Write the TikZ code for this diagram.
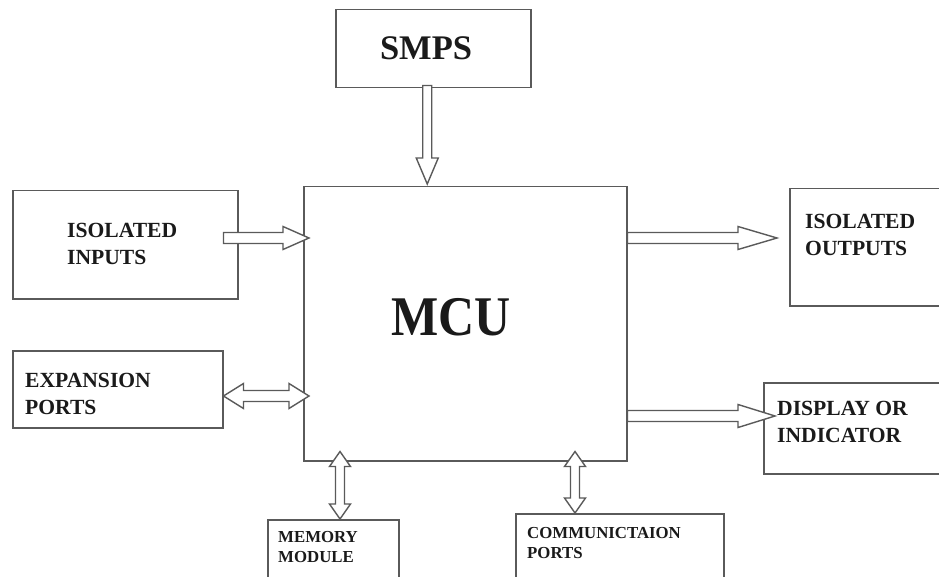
\documentclass[tikz,border=0pt]{standalone}
\usepackage{fontspec}
\usepackage{graphicx}
\setmainfont{Liberation Serif}
\usetikzlibrary{calc}
\definecolor{linecol}{HTML}{5A5A5A}
\definecolor{txtcol}{HTML}{1A1A1A}
\tikzset{
  box/.style={draw=linecol, line width=1.5pt, fill=white, anchor=north west, inner sep=0pt},
  lbl/.style={anchor=north west, inner sep=0pt, align=left, text=txtcol, font=\fontsize{21.6}{26.5}\selectfont\bfseries},
  smalllbl/.style={anchor=north west, inner sep=0pt, align=left, text=txtcol, font=\fontsize{16.8}{20.5}\selectfont\bfseries},
  blk/.style={draw=linecol, line width=1.4pt, fill=white, line join=miter}
}
% single arrow pointing right: #1 start, #2 tip, #3 shaft half, #4 head half, #5 head length
\newcommand{\arrR}[5]{%
  \draw[blk] ($(#1)+(0,-#3)$) -- ($(#2)+(-#5,-#3)$) -- ($(#2)+(-#5,-#4)$) -- (#2)
    -- ($(#2)+(-#5,#4)$) -- ($(#2)+(-#5,#3)$) -- ($(#1)+(0,#3)$) -- cycle;}
% single arrow pointing down (y axis points down)
\newcommand{\arrD}[5]{%
  \draw[blk] ($(#1)+(-#3,0)$) -- ($(#2)+(-#3,-#5)$) -- ($(#2)+(-#4,-#5)$) -- (#2)
    -- ($(#2)+(#4,-#5)$) -- ($(#2)+(#3,-#5)$) -- ($(#1)+(#3,0)$) -- cycle;}
% double horizontal arrow: #1 left tip, #2 right tip
\newcommand{\arrLR}[5]{%
  \draw[blk] (#1) -- ($(#1)+(#5,-#4)$) -- ($(#1)+(#5,-#3)$) -- ($(#2)+(-#5,-#3)$)
    -- ($(#2)+(-#5,-#4)$) -- (#2) -- ($(#2)+(-#5,#4)$) -- ($(#2)+(-#5,#3)$)
    -- ($(#1)+(#5,#3)$) -- ($(#1)+(#5,#4)$) -- cycle;}
% double vertical arrow: #1 top tip, #2 bottom tip
\newcommand{\arrUD}[5]{%
  \draw[blk] (#1) -- ($(#1)+(-#4,#5)$) -- ($(#1)+(-#3,#5)$) -- ($(#2)+(-#3,-#5)$)
    -- ($(#2)+(-#4,-#5)$) -- (#2) -- ($(#2)+(#4,-#5)$) -- ($(#2)+(#3,-#5)$)
    -- ($(#1)+(#3,#5)$) -- ($(#1)+(#4,#5)$) -- cycle;}
\begin{document}
\begin{tikzpicture}[x=1pt, y=-1pt]
\useasboundingbox (0,0) rectangle (939,577);
\clip (0,0) rectangle (939,577);
\fill[white] (0,0) rectangle (939,577);

% boxes
\node[box, minimum width=195, minimum height=78] (smps) at (335,9) {};
\node[box, minimum width=323, minimum height=274] (mcu) at (303,186) {};
\node[box, minimum width=225, minimum height=108] (inp) at (12,190) {};
\node[box, minimum width=210, minimum height=77] (exp) at (12,350) {};
\node[box, minimum width=170, minimum height=117] (out) at (789,188) {};
\node[box, minimum width=190, minimum height=91] (disp) at (763,382) {};
\node[box, minimum width=131, minimum height=80] (mem) at (267,519) {};
\node[box, minimum width=208, minimum height=90] (com) at (515,513) {};

% texts
\node[anchor=base, inner sep=0pt, text=txtcol, font=\fontsize{34.5}{40}\selectfont\bfseries] (smpst) at (426,60) {SMPS};
\node[anchor=base, inner sep=0pt, text=txtcol, font=\fontsize{50}{56}\selectfont\bfseries] (mcut) at (451,335) {\scalebox{1}[1.12]{MCU}};
\node[lbl] (inpt) at (67,223) {ISOLATED\\INPUTS};
\node[lbl] (expt) at (25,373) {EXPANSION\\PORTS};
\node[lbl] (outt) at (805,214) {ISOLATED\\OUTPUTS};
\node[lbl] (dispt) at (777,401) {DISPLAY OR\\INDICATOR};
\node[smalllbl] (memt) at (278,531) {MEMORY\\MODULE};
\node[smalllbl] (comt) at (527,527) {COMMUNICTAION\\PORTS};

% connector end points
\coordinate (sA) at ([xshift=-6pt,yshift=3pt]smps.south);
\coordinate (sB0) at (sA |- mcu.north);
\coordinate (sB) at ([yshift=2pt]sB0);
\coordinate (iA) at ([xshift=-15pt]inp.east |- 0,238);
\coordinate (iB0) at (mcu.west |- iA);
\coordinate (iB) at ([xshift=6pt]iB0);
\coordinate (oA) at (mcu.east |- 0,238);
\coordinate (oB0) at (out.west |- oA);
\coordinate (oB) at ([xshift=-12pt]oB0);
\coordinate (dA) at (mcu.east |- 0,416);
\coordinate (dB0) at (disp.west |- dA);
\coordinate (dB) at ([xshift=12pt]dB0);
\coordinate (eA) at (exp.east |- 0,396);
\coordinate (eB0) at (mcu.west |- eA);
\coordinate (eB) at ([xshift=6pt]eB0);
\coordinate (mA0) at (mcu.south -| 340,0);
\coordinate (mA) at ([yshift=10pt]mA0);
\coordinate (mB) at (mA |- mem.north);
\coordinate (cA0) at (mcu.south -| 575,0);
\coordinate (cA) at ([yshift=10pt]cA0);
\coordinate (cB) at (cA |- com.north);

% arrows
\arrD{sA}{sB}{4.5}{11}{26}
\arrR{iA}{iB}{5.5}{11.5}{26}
\arrR{oA}{oB}{5.5}{11.5}{39}
\arrR{dA}{dB}{5.5}{11.5}{37}
\arrLR{eA}{eB}{5.5}{12.5}{20}
\arrUD{mA}{mB}{4.5}{10.5}{15}
\arrUD{cA}{cB}{4.5}{10.5}{15}
\end{tikzpicture}
\end{document}
